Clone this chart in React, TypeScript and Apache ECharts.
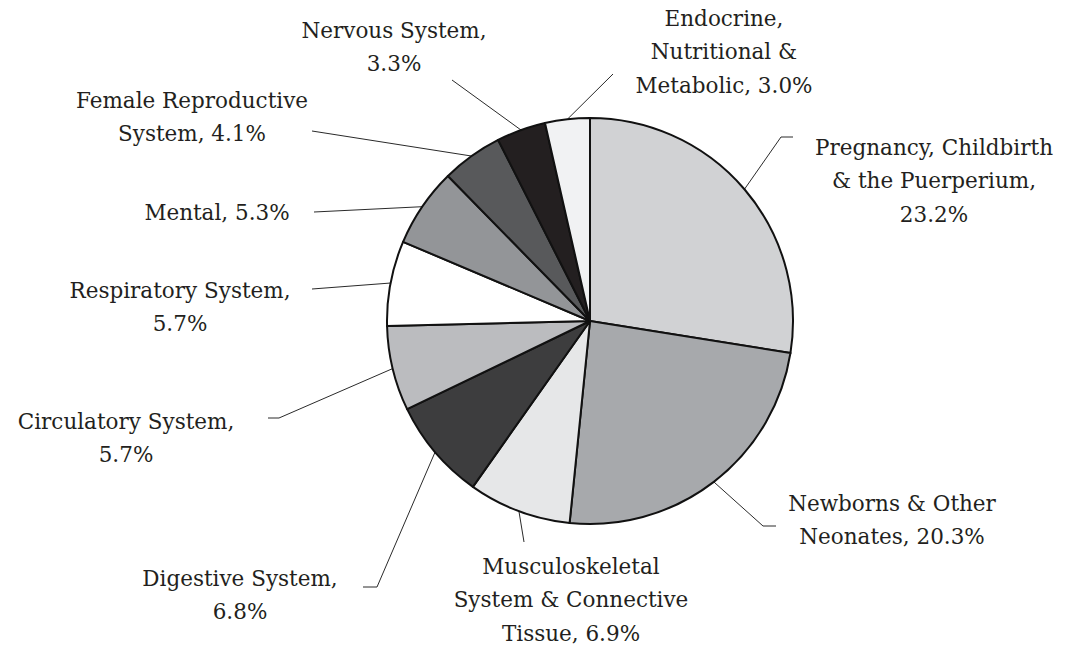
import React, { useEffect, useRef } from "react";
import * as echarts from "echarts";

const categories = [
  "Pregnancy, Childbirth & the Puerperium",
  "Newborns & Other Neonates",
  "Musculoskeletal System & Connective Tissue",
  "Digestive System",
  "Circulatory System",
  "Respiratory System",
  "Mental",
  "Female Reproductive System",
  "Nervous System",
  "Endocrine, Nutritional & Metabolic",
];
const values = [23.2, 20.3, 6.9, 6.8, 5.7, 5.7, 5.3, 4.1, 3.3, 3.0];
const sliceColors = [
  "#d1d2d4",
  "#a7a9ac",
  "#e6e7e8",
  "#3d3d3e",
  "#bbbcbf",
  "#ffffff",
  "#939598",
  "#58595b",
  "#231f20",
  "#f1f2f3",
];
const labelTemplates = [
  "Pregnancy, Childbirth\n& the Puerperium,\n{v}%",
  "Newborns & Other\nNeonates, {v}%",
  "Musculoskeletal\nSystem & Connective\nTissue, {v}%",
  "Digestive System,\n{v}%",
  "Circulatory System,\n{v}%",
  "Respiratory System,\n{v}%",
  "Mental, {v}%",
  "Female Reproductive\nSystem, {v}%",
  "Nervous System,\n{v}%",
  "Endocrine,\nNutritional &\nMetabolic, {v}%",
];

// layout: [labelCenterX, firstLineCenterY, elbowX, elbowY, endX, endY]
const LINE_H = 33.5;
const labelLayoutSpec: number[][] = [
  [934, 147, 781, 137, 793, 137],
  [892, 503, 763, 526, 776, 526],
  [571, 566, 524, 542, 524, 542],
  [240, 578, 377, 587, 363, 587],
  [126, 421, 279, 418, 268, 418],
  [180, 290, 312, 289, 312, 289],
  [217, 212, 314, 212, 314, 212],
  [192, 100, 312, 131, 312, 131],
  [394, 30, 452, 80, 452, 80],
  [724, 18, 613, 74, 613, 74],
];

export default function App() {
  const ref = useRef<HTMLDivElement>(null);
  useEffect(() => {
    if (!ref.current) return;
    const chart = echarts.init(ref.current, null, { renderer: "svg" });
    const data = categories.map((name, i) => ({
      name,
      value: values[i],
      itemStyle: { color: sliceColors[i] },
    }));
    chart.setOption({
      animation: false,
      backgroundColor: "#ffffff",
      series: [
        {
          type: "pie",
          center: [590, 321],
          radius: 203,
          startAngle: 90,
          clockwise: true,
          data,
          itemStyle: { borderColor: "#111111", borderWidth: 2 },
          emphasis: { disabled: true },
          label: {
            show: true,
            formatter: (p: any) =>
              labelTemplates[p.dataIndex].replace("{v}", values[p.dataIndex].toFixed(1)),
            fontFamily: "DejaVu Serif",
            fontSize: 21.5,
            lineHeight: LINE_H,
            color: "#231f20",
            align: "center",
          },
          labelLine: {
            show: true,
            lineStyle: { color: "#2a2a2a", width: 1 },
          },
          labelLayout: (params: any) => {
            const s = labelLayoutSpec[params.dataIndex];
            const start = params.labelLinePoints ? params.labelLinePoints[0] : [s[2], s[3]];
            return {
              x: s[0],
              y: s[1] - LINE_H / 2,
              align: "center",
              verticalAlign: "top",
              labelLinePoints: [start, [s[2], s[3]], [s[4], s[5]]],
            };
          },
        },
      ],
    });
    return () => chart.dispose();
  }, []);
  return (
    <div
      ref={ref}
      style={{ position: "absolute", left: 0, top: 0, width: 1067, height: 646 }}
    />
  );
}
